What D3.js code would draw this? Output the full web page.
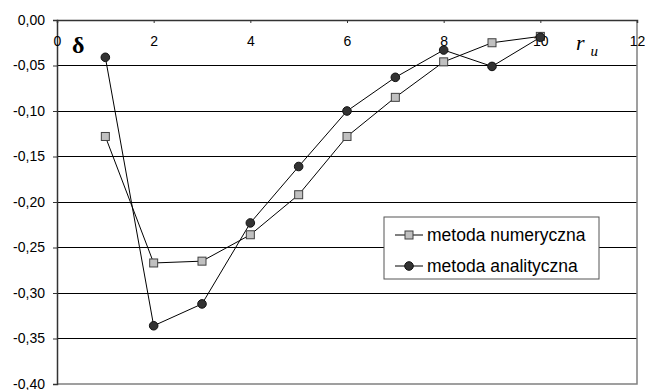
<!DOCTYPE html>
<html>
<head>
<meta charset="utf-8">
<script src="https://cdn.jsdelivr.net/npm/d3@7"></script>
<style>
    body { margin: 0; background: #fff; }
</style>
</head>
<body>
<script>
// data
const xValues = [1, 2, 3, 4, 5, 6, 7, 8, 9, 10];
const numeryczna = [-0.128, -0.267, -0.265, -0.236, -0.192, -0.128, -0.085, -0.046, -0.025, -0.018];
const analityczna = [-0.041, -0.336, -0.312, -0.223, -0.161, -0.100, -0.063, -0.033, -0.051, -0.019];
const xTicks = [0, 2, 4, 6, 8, 10, 12];
const yTicks = [0, -0.05, -0.10, -0.15, -0.20, -0.25, -0.30, -0.35, -0.40];
const seriesNames = ['metoda numeryczna', 'metoda analityczna'];

const width = 645, height = 390;
const plotLeft = 57, plotRight = 637, plotTop = 20, plotBottom = 384;

const svg = d3.select('body').append('svg')
    .attr('width', width).attr('height', height)
    .style('font-family', 'Arial, "Liberation Sans", sans-serif');

const x = d3.scaleLinear().domain([0, 12]).range([plotLeft, plotRight]);
const y = d3.scaleLinear().domain([-0.40, 0]).range([plotBottom, plotTop]);

const fmt = v => d3.format('.2f')(v).replace('.', ',').replace('−', '-');

// horizontal gridlines
svg.append('g').selectAll('line')
    .data(yTicks.filter(v => v < 0 && v > -0.40))
    .join('line')
    .attr('x1', plotLeft).attr('x2', plotRight)
    .attr('y1', d => y(d)).attr('y2', d => y(d))
    .attr('stroke', '#000').attr('stroke-width', 1)
    .attr('shape-rendering', 'crispEdges');

// right and bottom frame
svg.append('path')
    .attr('d', `M${plotRight},${plotTop}V${plotBottom}H${plotLeft}`)
    .attr('fill', 'none').attr('stroke', '#808080').attr('stroke-width', 1.5);

// y axis on the left
const yAxis = svg.append('g')
    .attr('transform', `translate(${plotLeft},0)`)
    .call(d3.axisLeft(y).tickValues(yTicks).tickSize(4).tickPadding(8).tickFormat(fmt));
yAxis.select('.domain').attr('stroke', '#333').attr('stroke-width', 1.5);
yAxis.selectAll('.tick line').attr('stroke', '#333');
yAxis.selectAll('text').attr('font-size', 14).attr('fill', '#000');

// x axis crosses at y = 0, labels below the line
const xAxis = svg.append('g')
    .attr('transform', `translate(0,${y(0)})`)
    .call(d3.axisBottom(x).tickValues(xTicks).tickSize(3).tickPadding(13));
xAxis.select('.domain').attr('stroke', '#333').attr('stroke-width', 1.5);
xAxis.selectAll('.tick line').attr('stroke', '#333');
xAxis.selectAll('text').attr('font-size', 14).attr('fill', '#000');

// axis symbols
svg.append('text')
    .attr('x', 72).attr('y', 53)
    .attr('font-family', '"Liberation Serif", "Times New Roman", serif')
    .attr('font-weight', 'bold').attr('font-size', 24)
    .text('δ');
const ru = svg.append('text')
    .attr('x', 576).attr('y', 50)
    .attr('font-family', '"Liberation Serif", "Times New Roman", serif')
    .attr('font-style', 'italic').attr('font-size', 22);
ru.append('tspan').text('r');
ru.append('tspan').attr('dx', 6).attr('dy', 6).attr('font-size', 15).text('u');

const line = d3.line().x((d, i) => x(xValues[i])).y(d => y(d));

// series lines
[numeryczna, analityczna].forEach(s => {
    svg.append('path')
        .attr('d', line(s))
        .attr('fill', 'none').attr('stroke', '#000').attr('stroke-width', 1);
});

// markers
svg.append('g').selectAll('rect')
    .data(numeryczna)
    .join('rect')
    .attr('x', (d, i) => x(xValues[i]) - 4).attr('y', d => y(d) - 4)
    .attr('width', 8).attr('height', 8)
    .attr('fill', '#c0c0c0').attr('stroke', '#404040').attr('stroke-width', 1);

svg.append('g').selectAll('circle')
    .data(analityczna)
    .join('circle')
    .attr('cx', (d, i) => x(xValues[i])).attr('cy', d => y(d))
    .attr('r', 4.3)
    .attr('fill', '#333').attr('stroke', '#111').attr('stroke-width', 1);

// legend
const lg = svg.append('g').attr('transform', 'translate(384,217)');
lg.append('rect')
    .attr('width', 215).attr('height', 62)
    .attr('fill', '#fff').attr('stroke', '#555').attr('stroke-width', 1);

const items = lg.selectAll('g.item')
    .data(seriesNames)
    .join('g')
    .attr('class', 'item')
    .attr('transform', (d, i) => `translate(0,${18 + i * 31})`);
items.append('line')
    .attr('x1', 11).attr('x2', 39)
    .attr('stroke', '#000').attr('stroke-width', 1);
items.filter((d, i) => i == 0).append('rect')
    .attr('x', 21).attr('y', -4).attr('width', 8).attr('height', 8)
    .attr('fill', '#c0c0c0').attr('stroke', '#404040');
items.filter((d, i) => i == 1).append('circle')
    .attr('cx', 25).attr('cy', 0).attr('r', 4.3)
    .attr('fill', '#333').attr('stroke', '#111');
items.append('text')
    .attr('x', 43).attr('y', 5.5)
    .attr('font-size', 17.5)
    .text(d => d);
</script>
</body>
</html>
